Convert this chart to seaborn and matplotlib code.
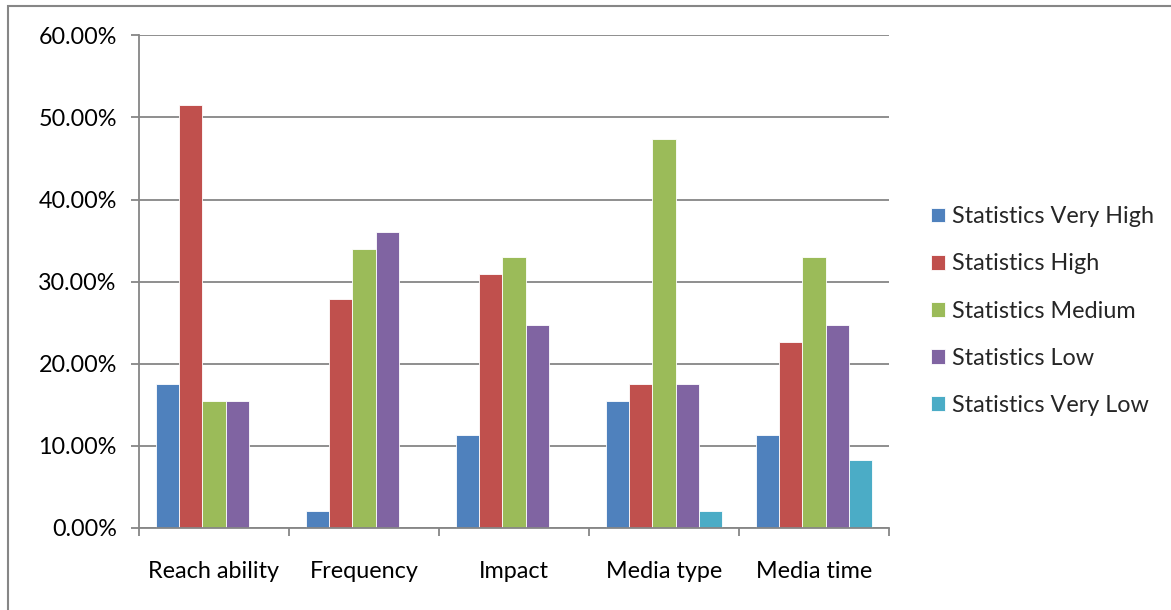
import matplotlib
matplotlib.use("Agg")
import matplotlib.pyplot as plt
from matplotlib.patches import Rectangle
from matplotlib.ticker import FuncFormatter, FixedLocator
import seaborn as sns
import pandas as pd

# Survey results (share of respondents, %)
categories = ["Reach ability", "Frequency", "Impact", "Media type", "Media time"]
levels = ["Statistics Very High", "Statistics High", "Statistics Medium",
          "Statistics Low", "Statistics Very Low"]
very_high = [17.53, 2.06, 11.34, 15.46, 11.34]
high = [51.55, 27.84, 30.93, 17.53, 22.68]
medium = [15.46, 34.02, 32.99, 47.42, 32.99]
low = [15.46, 36.08, 24.74, 17.53, 24.74]
very_low = [0.0, 0.0, 0.0, 2.06, 8.25]
palette = ["#4F81BD", "#C0504D", "#9BBB59", "#8064A2", "#4BACC6"]

series = [very_high, high, medium, low, very_low]
rows = []
for level, vals in zip(levels, series):
    for cat, v in zip(categories, vals):
        rows.append({"category": cat, "level": level, "share": v / 100.0})
df = pd.DataFrame(rows)

sns.set_theme(style="white")
plt.rcParams["font.family"] = ["Lato", "DejaVu Sans"]
FS = 16.8
GRID = "#868686"

W, H = 1171, 610
fig = plt.figure(figsize=(W / 100, H / 100), dpi=100)
ax = fig.add_axes([139 / W, 1 - 528 / H, (889 - 139) / W, (528 - 35.4) / H])

sns.barplot(data=df, x="category", y="share", hue="level",
            order=categories, hue_order=levels, palette=palette,
            width=0.767, gap=0, saturation=1, edgecolor="white",
            linewidth=0.6, ax=ax, legend=True, errorbar=None)

ax.set_xlim(-0.5, len(categories) - 0.5)
ax.set_ylim(0, 0.6)
ax.set_yticks([i / 10 for i in range(7)])
ax.yaxis.set_major_formatter(FuncFormatter(lambda v, _: f"{v * 100:.2f}%"))
ax.grid(axis="y", color=GRID, linewidth=1.3)
ax.set_axisbelow(True)

for s in ["top", "right"]:
    ax.spines[s].set_visible(False)
for s in ["left", "bottom"]:
    ax.spines[s].set_color(GRID)
    ax.spines[s].set_linewidth(1.3)
    ax.spines[s].set_zorder(5)

ax.set_xlabel("")
ax.set_ylabel("")
ax.tick_params(axis="y", direction="out", length=6, width=1.3, color=GRID,
               pad=10, labelsize=FS, labelcolor="black", left=True)
ax.xaxis.set_minor_locator(FixedLocator([i - 0.5 for i in range(len(categories) + 1)]))
ax.tick_params(axis="x", which="minor", direction="out", length=6, width=1.3,
               color=GRID, bottom=True)
ax.tick_params(axis="x", which="major", length=0, pad=24, labelsize=FS,
               labelcolor="black")

handles, labels = ax.get_legend_handles_labels()
ax.legend_.remove()
fig.legend(handles, labels, loc="center left",
           bbox_to_anchor=(931 / W, 1 - 311 / H), frameon=False,
           fontsize=FS, handlelength=0.6, handleheight=0.6,
           handletextpad=0.3, labelspacing=1.12, borderpad=0,
           borderaxespad=0)

# chart frame
fig.add_artist(Rectangle((8 / W, -0.1), 1.2, 1 - 6 / H + 0.1,
                         transform=fig.transFigure, fill=False,
                         edgecolor=GRID, linewidth=1.5))

fig.savefig("out.png", dpi=100)
